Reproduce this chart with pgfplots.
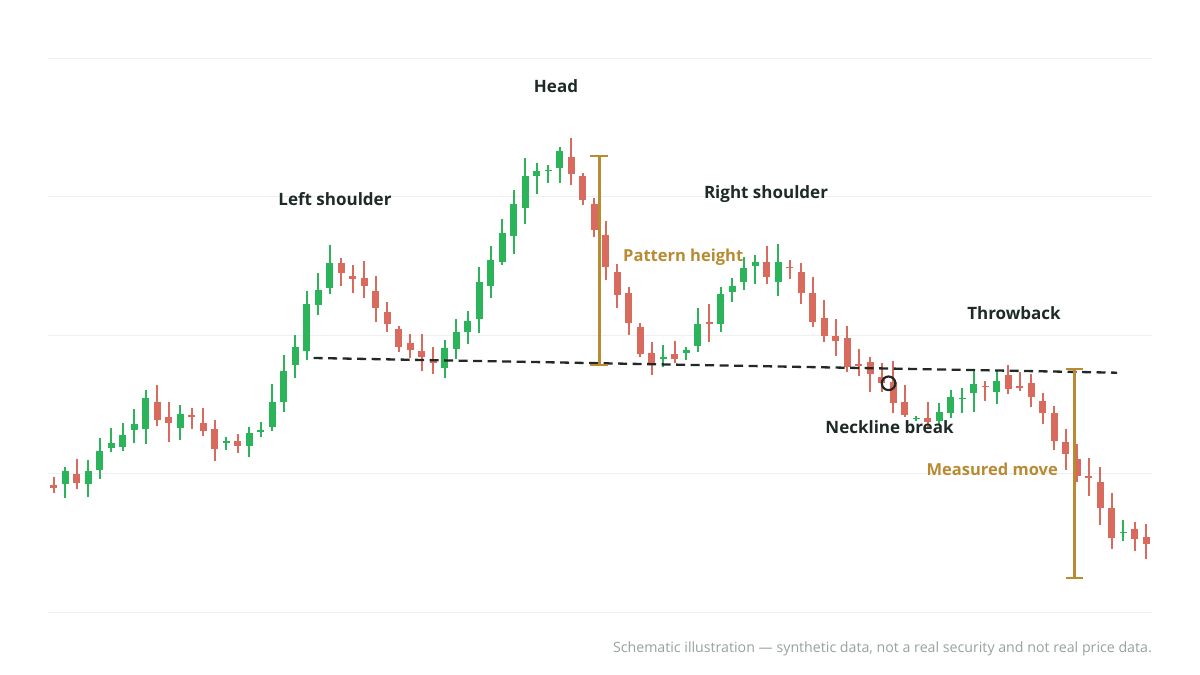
\documentclass[border=0pt]{standalone}
\usepackage{pgfplots}
\pgfplotsset{compat=1.18}
\usepackage{pgfplotstable}
\usepackage{fontspec}
\setmainfont{Open Sans}
\definecolor{cgreen}{RGB}{44,180,90}
\definecolor{cred}{RGB}{217,106,94}
\definecolor{gold}{RGB}{184,138,50}
\definecolor{labc}{RGB}{30,42,40}
\definecolor{neck}{RGB}{34,40,38}
\definecolor{gridc}{RGB}{236,240,238}
\definecolor{footc}{RGB}{150,162,157}

\pgfplotstableread{
x o h l c
1 12.77 14.53 11.37 14.13
3 12.77 15.2 11.47 14.13
4 14.2 17.43 13.27 16.1
5 16.43 18.37 16.03 16.93
6 16.53 18.87 16.1 17.7
7 18.2 20.3 16.87 18.8
8 18.3 22.2 16.8 21.37
11 18.43 20.73 17.2 19.77
15 16.87 17.53 16.2 17.07
17 16.63 18.47 15.53 17.87
18 18.0 19.03 17.53 18.2
19 18.47 22.8 18.13 21.03
20 21.0 25.7 20.0 24.13
21 24.7 27.7 23.37 26.53
22 26.13 32.1 25.2 30.8
23 30.7 33.93 29.67 32.2
24 32.43 36.67 31.77 34.93
34 24.43 27.2 23.37 26.43
35 26.33 29.27 25.27 28.0
36 28.03 30.1 26.77 29.1
37 29.33 34.47 27.87 33.03
38 32.6 36.63 31.37 35.2
39 35.03 39.27 34.7 37.93
40 37.6 42.2 35.8 40.8
41 40.37 45.43 38.8 43.6
42 43.6 44.87 41.77 44.13
43 44.1 44.7 42.87 44.2
44 44.37 46.53 42.87 46.1
53 25.33 26.7 24.47 25.47
55 25.87 26.53 25.2 26.2
56 26.6 30.43 26.03 28.77
58 28.77 32.45 28.03 31.77
59 32.03 33.43 31.03 32.6
60 32.97 35.53 32.2 34.37
61 34.63 35.7 32.77 34.97
63 32.97 36.77 31.6 34.97
75 19.27 19.6 19.13 19.37
77 19.13 20.87 18.7 20.03
78 19.87 22.2 19.37 21.53
79 21.33 22.37 19.93 21.43
80 21.87 24.17 20.03 22.8
82 21.97 24.13 20.75 23.08
93 7.93 9.2 7.13 8.03
}\greentab

\pgfplotstableread{
x o h l c
0 12.7 13.47 11.93 12.37
2 13.77 15.3 12.27 12.93
9 21.03 22.7 18.63 19.2
10 19.53 21.03 17.03 18.87
12 19.67 20.37 18.27 19.47
13 18.93 20.37 17.6 18.1
14 18.27 19.2 15.1 16.27
16 17.1 17.77 15.87 16.63
25 34.87 35.37 32.63 33.93
26 33.6 34.73 31.93 33.27
27 33.37 35.07 31.37 32.63
28 32.13 33.63 29.03 30.43
29 30.03 31.03 28.0 28.83
30 28.27 28.6 26.03 26.47
31 26.87 27.8 25.37 26.2
32 26.13 27.77 24.13 25.53
33 25.1 26.47 23.77 24.87
45 45.53 47.37 42.7 43.8
46 43.63 43.93 40.7 41.2
47 40.8 41.37 37.47 38.2
48 37.7 39.13 33.2 34.47
49 34.03 34.77 30.37 31.7
50 31.87 32.45 27.7 28.93
51 28.53 28.87 25.53 25.8
52 25.87 26.97 23.7 24.87
54 25.77 27.13 24.87 25.27
57 29.03 30.8 27.03 28.8
62 35.03 36.63 32.77 33.47
64 34.53 35.2 33.3 34.37
65 33.97 34.87 30.8 31.93
66 31.87 33.53 28.53 29.03
67 29.43 31.2 27.03 27.6
68 27.6 29.27 25.6 27.13
69 27.37 28.6 24.03 24.53
70 24.8 26.3 23.63 24.6
71 24.97 25.47 21.97 23.77
72 23.53 24.87 22.03 22.93
73 23.03 25.1 19.87 20.87
74 20.97 22.7 19.53 19.7
76 19.43 20.97 18.4 19.03
81 22.63 23.13 21.1 22.47
83 23.7 24.7 21.8 22.33
84 22.63 24.03 22.13 22.43
85 22.93 23.8 20.47 21.47
86 21.13 21.93 18.8 19.87
87 19.93 20.6 16.2 17.13
88 16.97 18.3 14.2 15.8
89 15.3 16.77 12.97 13.6
90 13.6 15.37 11.63 13.37
91 13.03 14.47 8.7 10.37
92 10.37 11.93 6.3 7.37
94 8.27 9.03 6.1 7.3
95 7.53 8.77 5.27 6.77
}\redtab

\begin{document}
\begin{tikzpicture}
\useasboundingbox (0pt,0pt) rectangle (1200pt,675pt);
\begin{axis}[
  at={(48pt,63pt)}, anchor=south west,
  scale only axis, width=1104pt, height=554pt,
  xmin=-0.5, xmax=95.5, ymin=0, ymax=55.4,
  axis line style={draw=none},
  xtick=\empty,
  ytick={0,13.85,27.7,41.55,55.4},
  yticklabels={},
  tick style={draw=none},
  ymajorgrids,
  major grid style={color=gridc, line width=0.9pt},
  clip=false,
  candle/.style={draw=none, mark=none, forget plot,
    error bars/.cd, y dir=plus, y explicit, error mark=none},
]
% wicks
\addplot[candle, error bar style={draw=cgreen, line width=1.9pt}]
  table[x=x, y=l, y error expr=\thisrow{h}-\thisrow{l}] {\greentab};
\addplot[candle, error bar style={draw=cred, line width=1.9pt}]
  table[x=x, y=l, y error expr=\thisrow{h}-\thisrow{l}] {\redtab};
% bodies
\addplot[candle, error bar style={draw=cgreen, line width=7pt}]
  table[x=x, y=o, y error expr=\thisrow{c}-\thisrow{o}] {\greentab};
\addplot[candle, error bar style={draw=cred, line width=7pt}]
  table[x=x, y=c, y error expr=\thisrow{o}-\thisrow{c}] {\redtab};
% neckline
\addplot[neck, line width=2.3pt, dash pattern=on 9pt off 5.5pt] coordinates {(22.6,25.4) (92.47,23.93)};
% pattern height
\addplot[gold, line width=2.6pt] coordinates {(47.45,45.6) (47.45,24.7)};
\addplot[gold, line width=2.6pt] coordinates {(46.67,45.6) (48.23,45.6)};
\addplot[gold, line width=2.6pt] coordinates {(46.67,24.7) (48.23,24.7)};
% measured move
\addplot[gold, line width=2.6pt] coordinates {(88.76,24.3) (88.76,3.4)};
\addplot[gold, line width=2.6pt] coordinates {(88.02,24.3) (89.5,24.3)};
\addplot[gold, line width=2.6pt] coordinates {(88.02,3.4) (89.5,3.4)};
% neckline break circle
\addplot[only marks, mark=o, mark size=6.8pt, mark options={line width=2.2pt, draw=neck}] coordinates {(72.6,22.87)};
\end{axis}
\begin{scope}[every node/.style={font=\fontsize{17}{20}\selectfont\bfseries, inner sep=0pt}]
\node[labc] at (556pt,589pt) {Head};
\node[labc] at (335pt,475.5pt) {Left shoulder};
\node[labc] at (766pt,481pt) {Right shoulder};
\node[gold, anchor=west, font=\fontsize{16.5}{20}\selectfont\bfseries] at (623pt,418pt) {Pattern height};
\node[labc] at (1014pt,362pt) {Throwback};
\node[labc] at (889.5pt,248pt) {Neckline break};
\node[gold, anchor=east, font=\fontsize{16.5}{20}\selectfont\bfseries] at (1058pt,206pt) {Measured move};
\end{scope}
\node[footc, anchor=east, inner sep=0pt, font=\fontsize{14.2}{17}\selectfont] at (1152pt,26pt) {Schematic illustration — synthetic data, not a real security and not real price data.};
\end{tikzpicture}
\end{document}
